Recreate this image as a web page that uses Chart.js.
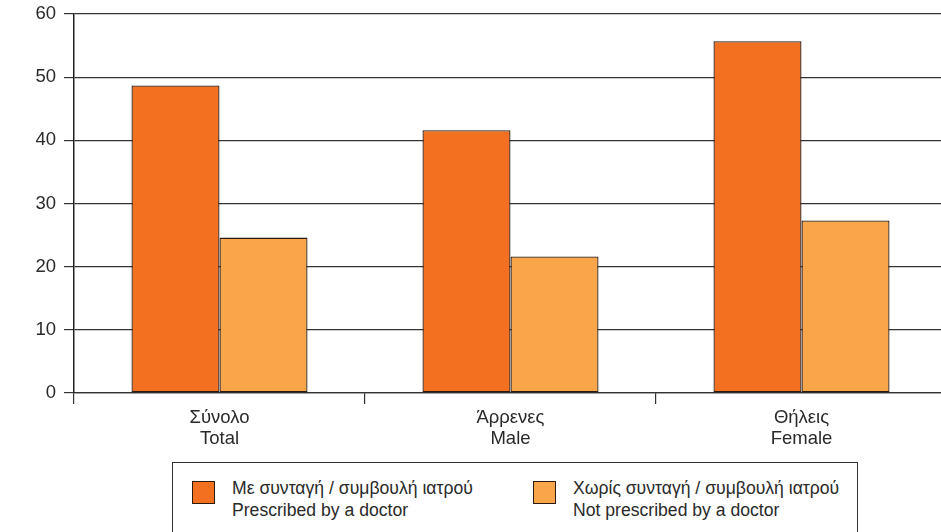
<!DOCTYPE html>
<html>
<head>
<meta charset="utf-8">
<script src="https://cdn.jsdelivr.net/npm/chart.js@4/dist/chart.umd.min.js"></script>
<style>
  html, body { margin: 0; padding: 0; background: #fff; overflow: hidden; }
  #wrap { position: relative; width: 960px; height: 532px; overflow: hidden; }
  #chartBox { position: absolute; left: 0; top: 0; width: 960px; height: 461px; }
  #legend { position: absolute; left: 172px; top: 462px; width: 686px; height: 90px;
            border: 1px solid #333; box-sizing: border-box;
            font-family: "Liberation Sans", Arial, sans-serif; font-size: 17.6px; color: #2a2a2a; }
  .item { position: absolute; top: 18px; }
  .sw { position: absolute; top: 0; width: 21px; height: 21px; border: 1px solid #2b1a10; }
  .txt { position: absolute; left: 40px; top: -4px; line-height: 22px; white-space: nowrap; }
</style>
</head>
<body>
<div id="wrap">
  <div id="chartBox"><canvas id="c"></canvas></div>
  <div id="legend"></div>
</div>
<script>
const categories = [["Σύνολο", "Total"], ["Άρρενες", "Male"], ["Θήλεις", "Female"]];
const prescribed = [48.7, 41.6, 55.7];
const notPrescribed = [24.6, 21.6, 27.3];
const seriesLabels = [["Με συνταγή / συμβουλή ιατρού", "Prescribed by a doctor"],
                      ["Χωρίς συνταγή / συμβουλή ιατρού", "Not prescribed by a doctor"]];
const seriesColors = ["#F37021", "#F9A54A"];
const yTicks = [0, 10, 20, 30, 40, 50, 60];

const font = { family: '"Liberation Sans", Arial, sans-serif', size: 18.5, lineHeight: 1.1 };

new Chart(document.getElementById('c'), {
  type: 'bar',
  data: {
    labels: categories,
    datasets: [
      { label: seriesLabels[0].join(' '), data: prescribed, backgroundColor: seriesColors[0],
        borderColor: '#2b1a10', borderWidth: 1.3, borderSkipped: false },
      { label: seriesLabels[1].join(' '), data: notPrescribed, backgroundColor: seriesColors[1],
        borderColor: '#2b1a10', borderWidth: 1.3, borderSkipped: false }
    ]
  },
  options: {
    responsive: true,
    maintainAspectRatio: false,
    animation: false,
    layout: { padding: { top: 14, right: 13, left: 0, bottom: 0 } },
    datasets: { bar: { barPercentage: 1.0, categoryPercentage: 0.605 } },
    plugins: { legend: { display: false }, tooltip: { enabled: false } },
    scales: {
      x: {
        offset: true,
        grid: { offset: true, drawOnChartArea: false, tickLength: 11, color: '#333', tickColor: '#333', lineWidth: 1.2 },
        border: { display: true, color: '#333', width: 1.2 },
        ticks: { font: font, color: '#2a2a2a', padding: 4, maxRotation: 0 },
        afterFit: s => { s.height = 68; s.paddingLeft = 0; s.paddingRight = 0; }
      },
      y: {
        min: 0, max: 60,
        afterBuildTicks: s => { s.ticks = yTicks.map(v => ({ value: v })); },
        grid: { color: '#333', tickColor: '#333', tickLength: 10, lineWidth: 1.2 },
        border: { display: true, color: '#222', width: 1.5 },
        ticks: { font: font, color: '#2a2a2a', padding: 8 },
        afterFit: s => { s.width = 74; s.paddingTop = 0; s.paddingBottom = 0; }
      }
    }
  }
});

const legend = document.getElementById('legend');
const lefts = [19, 360];
seriesLabels.forEach((lab, i) => {
  const it = document.createElement('div');
  it.className = 'item';
  it.style.left = lefts[i] + 'px';
  it.innerHTML = '<div class="sw" style="background:' + seriesColors[i] + '"></div>' +
    '<div class="txt">' + lab[0] + '<br>' + lab[1] + '</div>';
  legend.appendChild(it);
});
</script>
</body>
</html>
